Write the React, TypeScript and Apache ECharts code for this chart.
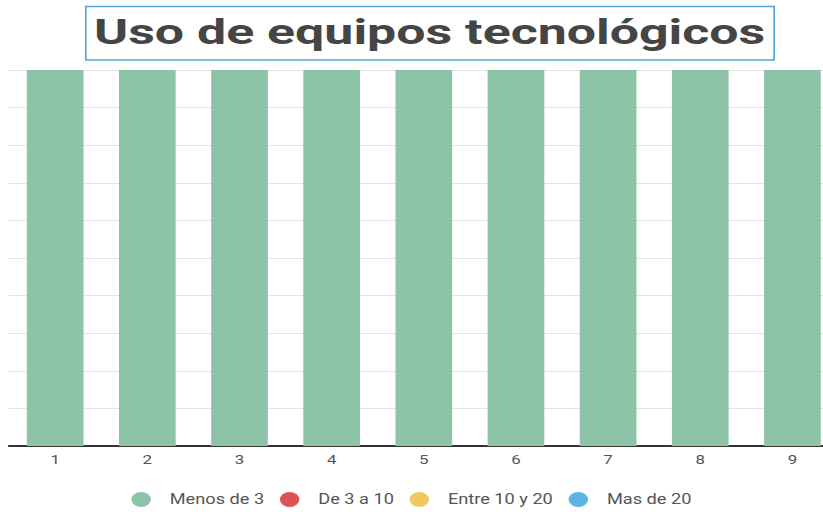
import React, { useEffect, useRef } from "react";
import * as echarts from "echarts";

const categories = ["1", "2", "3", "4", "5", "6", "7", "8", "9"];
const seriesNames = ["Menos de 3", "De 3 a 10", "Entre 10 y 20", "Mas de 20"];
const menosDe3 = [100, 100, 100, 100, 100, 100, 100, 100, 100];
const de3a10 = [0, 0, 0, 0, 0, 0, 0, 0, 0];
const entre10y20 = [0, 0, 0, 0, 0, 0, 0, 0, 0];
const masDe20 = [0, 0, 0, 0, 0, 0, 0, 0, 0];
const colors = ["#8dc3a7", "#dc5356", "#f0c85f", "#5db4e4"];
const titleText = "Uso de equipos tecnológicos";

const SX = 1.3;
const W = 823 / SX;

export default function App() {
  const ref = useRef<HTMLDivElement>(null);
  useEffect(() => {
    document.body.style.margin = "0";
    const chart = echarts.init(ref.current!, null, { renderer: "svg" });
    const ellipse = "path://M50,0A50,50,0,1,1,50,100A50,50,0,1,1,50,0Z";
    const values = [menosDe3, de3a10, entre10y20, masDe20];
    chart.setOption({
      animation: false,
      color: colors,
      graphic: [
        {
          type: "rect",
          shape: { x: 66, y: 6.5, width: 529.5, height: 53.5 },
          style: { fill: "none", stroke: "#4fa6dc", lineWidth: 1.3 },
        },
        {
          type: "text",
          x: 330.5,
          y: 32,
          scaleX: 1.14,
          style: {
            text: titleText,
            fontFamily: "Roboto",
            fontWeight: "bold",
            fontSize: 35,
            fill: "#454545",
            align: "center",
            verticalAlign: "middle",
          },
        },
      ],
      legend: {
        bottom: 0,
        left: "center",
        padding: 5,
        itemWidth: 18,
        itemHeight: 15,
        itemGap: 12,
        icon: ellipse,
        data: seriesNames,
        textStyle: {
          fontFamily: "Roboto",
          fontSize: 14,
          color: "#555",
          padding: [0, 0, 0, 8],
        },
      },
      grid: {
        left: 7,
        top: 70,
        bottom: 66,
        width: 638,
        containLabel: false,
        outerBoundsMode: "none",
      },
      xAxis: {
        type: "category",
        data: categories,
        axisLine: { lineStyle: { color: "#333", width: 2 } },
        axisTick: { show: false },
        axisLabel: { fontFamily: "Roboto", fontSize: 13, color: "#555", margin: 7 },
      },
      yAxis: {
        type: "value",
        min: 0,
        max: 100,
        interval: 10,
        axisLabel: { show: false },
        axisLine: { show: false },
        axisTick: { show: false },
        splitLine: { lineStyle: { color: "#e3e3e3", width: 1 } },
      },
      series: seriesNames.map((name, i) => ({
        name,
        type: "bar",
        stack: "total",
        barWidth: "61.5%",
        data: values[i],
      })),
    });
    return () => chart.dispose();
  }, []);
  return (
    <div style={{ width: 823, height: 512, overflow: "hidden", position: "relative" }}>
      <div
        ref={ref}
        style={{
          width: W,
          height: 512,
          transform: `scaleX(${SX})`,
          transformOrigin: "0 0",
          position: "absolute",
          left: 0,
          top: 0,
        }}
      />
    </div>
  );
}
